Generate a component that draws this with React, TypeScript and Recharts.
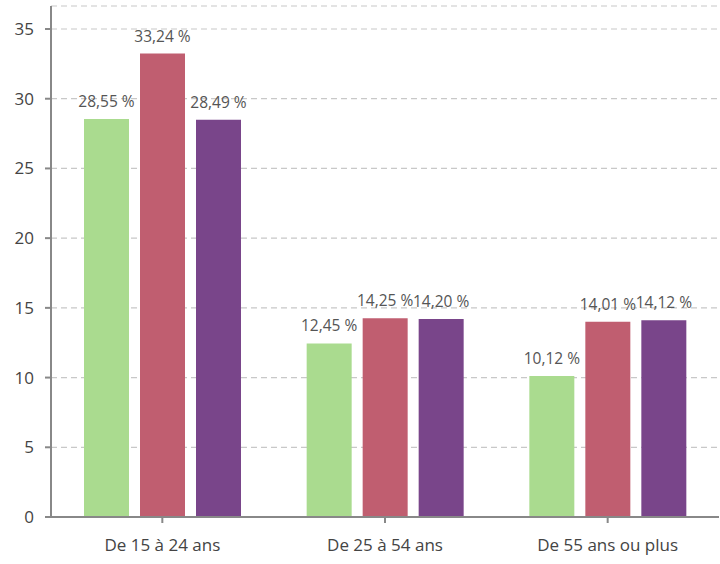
import { BarChart, Bar, XAxis, YAxis, CartesianGrid, LabelList } from "recharts";

const categories = ["De 15 à 24 ans", "De 25 à 54 ans", "De 55 ans ou plus"];
const serieA = [28.55, 12.45, 10.12];
const serieB = [33.24, 14.25, 14.01];
const serieC = [28.49, 14.2, 14.12];
const yTicks = [0, 5, 10, 15, 20, 25, 30, 35];

const data = categories.map((name, i) => ({
  name,
  a: serieA[i],
  b: serieB[i],
  c: serieC[i],
}));

const fmt = (v: any) => Number(v).toFixed(2).replace(".", ",") + " %";

const font = "'Open Sans', sans-serif";

// own label so the text never wraps to the bar width
const ValueLabel = (props: any) => {
  const { x, y, width, value } = props;
  return (
    <text
      x={Number(x) + Number(width) / 2}
      y={Number(y) - 12}
      textAnchor="middle"
      fill="#555"
      fontSize={15.5}
      fontFamily={font}
    >
      {fmt(value)}
    </text>
  );
};

export default function App() {
  return (
    <div style={{ position: "absolute", left: 0, top: 0, background: "#fff" }}>
      <BarChart
        width={720}
        height={564}
        data={data}
        margin={{ top: 6, right: 1, bottom: 17, left: 0 }}
        barCategoryGap={33}
        barGap={11}
      >
        <CartesianGrid vertical={false} stroke="#c8c8c8" strokeDasharray="6 4" strokeWidth={1.2} />
        <XAxis
          dataKey="name"
          height={30}
          stroke="#888"
          strokeWidth={2}
          tickSize={6}
          tickMargin={16}
          tick={{ fill: "#444", fontSize: 17, fontFamily: font }}
        />
        <YAxis
          width={51}
          domain={[0, 36.65]}
          ticks={yTicks}
          stroke="#888"
          strokeWidth={2}
          tickSize={6}
          tickMargin={11}
          tick={{ fill: "#444", fontSize: 17, fontFamily: font }}
        />
        <Bar dataKey="a" fill="#aadb8f" isAnimationActive={false}>
          <LabelList dataKey="a" content={ValueLabel} />
        </Bar>
        <Bar dataKey="b" fill="#c05e70" isAnimationActive={false}>
          <LabelList dataKey="b" content={ValueLabel} />
        </Bar>
        <Bar dataKey="c" fill="#79458a" isAnimationActive={false}>
          <LabelList dataKey="c" content={ValueLabel} />
        </Bar>
      </BarChart>
    </div>
  );
}
